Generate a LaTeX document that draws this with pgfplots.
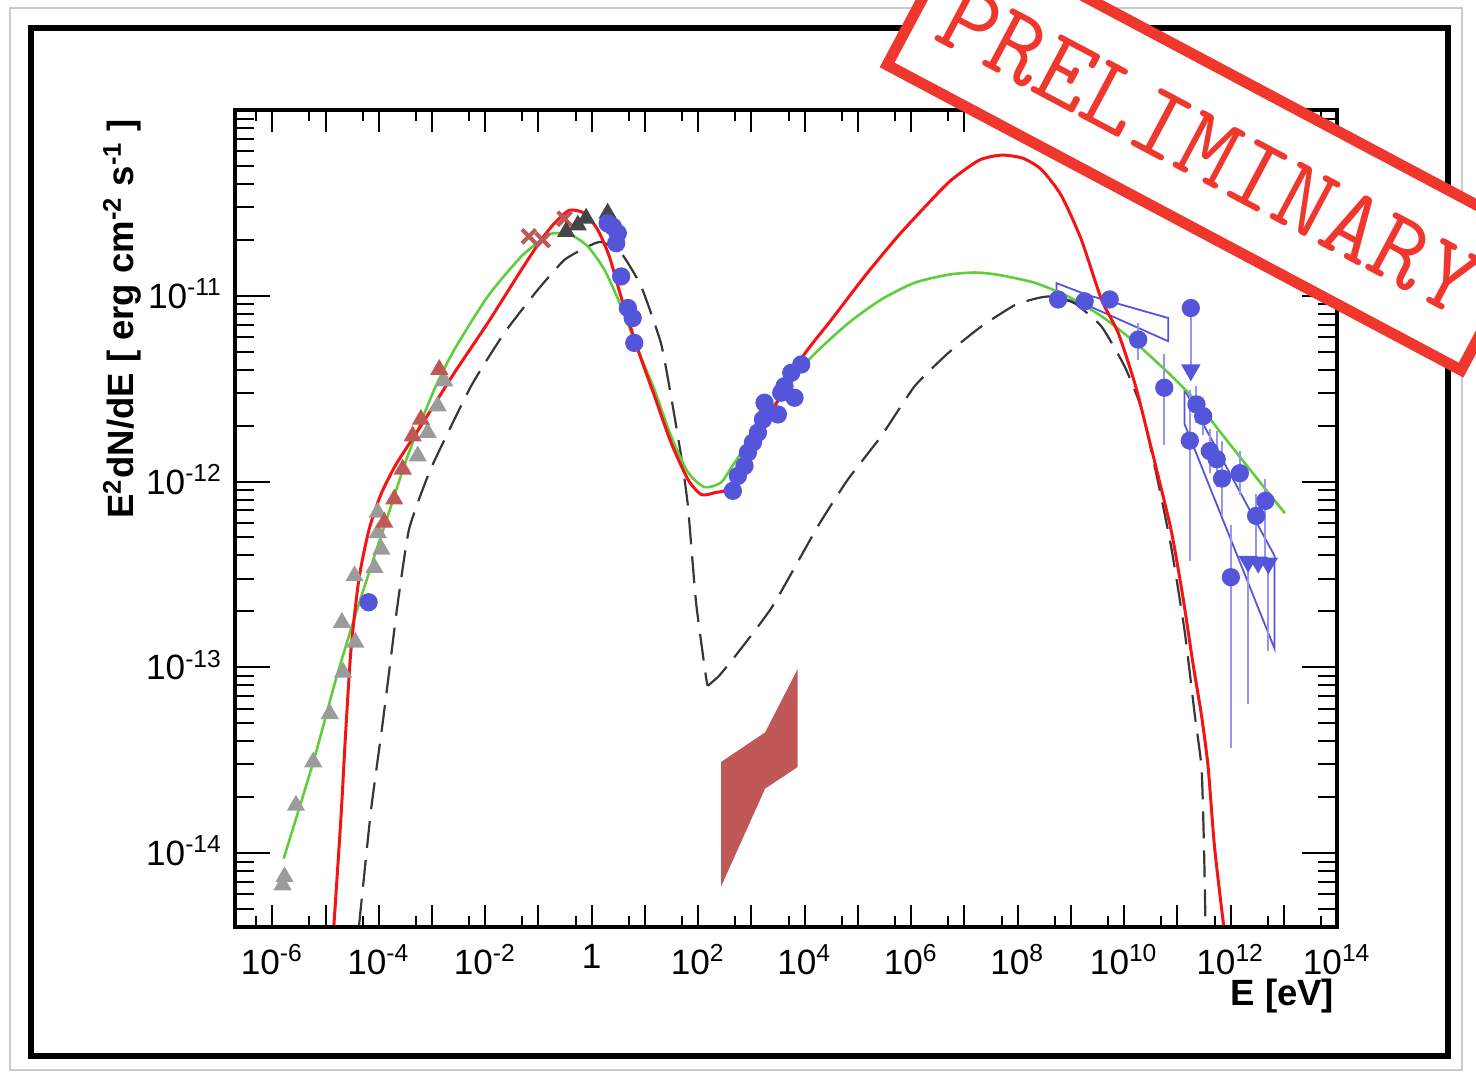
\documentclass[border=0pt]{standalone}
\usepackage{fontspec}
\setmainfont{Liberation Sans}
\usepackage{pgfplots}
\pgfplotsset{compat=1.18}
\definecolor{sedred}{RGB}{245,20,20}
\definecolor{sedgreen}{RGB}{95,205,60}
\definecolor{seddash}{RGB}{55,55,55}
\definecolor{ptblue}{RGB}{85,85,220}
\definecolor{errblue}{RGB}{150,150,240}
\definecolor{ptgray}{RGB}{155,155,155}
\definecolor{ptdark}{RGB}{70,70,70}
\definecolor{ptbrown}{RGB}{192,88,88}
\definecolor{stampred}{RGB}{240,55,45}

\begin{document}
\begin{tikzpicture}
\useasboundingbox (0,0) rectangle (14.76,10.74);
\draw[black!20, line width=0.015cm] (0.10,0.04) rectangle (14.62,10.66);
\draw[black, line width=0.06cm] (0.31,0.18) rectangle (14.48,10.46);
\begin{axis}[
  at={(2.35cm,1.47cm)}, anchor=south west,
  width=11.02cm, height=8.17cm, scale only axis,
  xmin=-6.7, xmax=14, ymin=-14.398, ymax=-10,
  axis line style={line width=0.035cm},
  tick align=inside,
  tick style={black, line width=0.02cm},
  xtick style={/pgfplots/major tick length=0.22cm,/pgfplots/minor tick length=0.11cm},
  ytick style={/pgfplots/major tick length=0.35cm,/pgfplots/minor tick length=0.19cm},
  xtick={-6,...,14},
  xticklabels={10\textsuperscript{-6},{},10\textsuperscript{-4},{},10\textsuperscript{-2},{},1,{},10\textsuperscript{2},{},10\textsuperscript{4},{},10\textsuperscript{6},{},10\textsuperscript{8},{},10\textsuperscript{10},{},10\textsuperscript{12},{},10\textsuperscript{14}},
  minor xtick={-6.301,-5.301,-4.301,-3.301,-2.301,-1.301,-0.301,0.699,1.699,2.699,3.699,4.699,5.699,6.699,7.699,8.699,9.699,10.699,11.699,12.699,13.699},
  ytick={-14,-13,-12,-11,-10},
  yticklabels={10\textsuperscript{-14},10\textsuperscript{-13},10\textsuperscript{-12},10\textsuperscript{-11},{}},
  minor ytick={-14.301,-14.222,-14.155,-14.097,-14.046,
    -13.699,-13.523,-13.398,-13.301,-13.222,-13.155,-13.097,-13.046,
    -12.699,-12.523,-12.398,-12.301,-12.222,-12.155,-12.097,-12.046,
    -11.699,-11.523,-11.398,-11.301,-11.222,-11.155,-11.097,-11.046,
    -10.699,-10.523,-10.398,-10.301,-10.222,-10.155,-10.097,-10.046},
  ticklabel style={font=\fontsize{10}{12}\selectfont},
  xticklabel style={yshift=-0.05cm},
  yticklabel style={anchor=base east, yshift=-3.6pt},
  xlabel={E [eV]},
  ylabel={E\textsuperscript{2}dN/dE [ erg cm\textsuperscript{-2} s\textsuperscript{-1} ]},
  label style={font=\bfseries\fontsize{10.4}{12}\selectfont, inner sep=0pt},
  xlabel style={at={(axis description cs:0.998,-0.0624)}, anchor=north east},
  ylabel style={at={(axis description cs:-0.0844,0.990)}, anchor=south east},
  error bars/error bar style={errblue, line width=0.02cm},
  error bars/error mark=none,
]
% shaded band (X-ray)
\addplot[fill=ptbrown, draw=none] coordinates {
  (2.43,-13.51) (3.258,-13.35) (3.868,-13.01) (3.868,-13.537) (3.258,-13.653) (2.43,-14.18)} -- cycle;
% butterflies
\addplot[ptblue, line width=0.018cm] coordinates {
  (8.73,-10.932) (9.3,-10.995) (10.83,-11.12) (10.83,-11.245) (9.3,-11.05) (8.73,-11.004)} -- cycle;
\addplot[ptblue, line width=0.018cm] coordinates {
  (11.135,-11.505) (12.827,-12.40) (12.827,-12.90) (11.135,-11.69)} -- cycle;
% dashed model
\addplot[seddash, line width=0.022cm, dash pattern=on 0.27cm off 0.12cm, smooth, tension=0.3] table {
x y
-4.37 -14.39
-4.15 -13.78
-3.94 -13.33
-3.79 -12.99
-3.65 -12.67
-3.43 -12.256
-3.02 -11.93
-2.267 -11.487
-1.64 -11.20
-1.013 -10.968
-0.513 -10.807
-0.073 -10.735
0.177 -10.71
0.553 -10.77
0.93 -10.95
1.30 -11.254
1.49 -11.54
1.68 -11.863
1.807 -12.13
1.96 -12.65
2.143 -13.045
2.179 -13.10
};
\addplot[seddash, line width=0.022cm, dash pattern=on 0.27cm off 0.12cm, smooth, tension=0.3] table {
x y
2.179 -13.10
2.395 -13.045
2.75 -12.92
3.40 -12.67
4.25 -12.24
4.81 -11.99
5.44 -11.755
6.066 -11.487
6.69 -11.31
7.32 -11.165
7.95 -11.05
8.385 -11.012
8.635 -11.004
9.07 -11.04
9.575 -11.165
10.01 -11.38
10.33 -11.61
10.64 -12.005
10.89 -12.36
11.14 -12.81
11.33 -13.26
11.455 -13.54
11.50 -13.95
11.53 -14.39
};
% green model
\addplot[sedgreen, line width=0.026cm, smooth, tension=0.4] table {
x y
-5.786 -14.03
-5.23 -13.51
-4.80 -13.06
-4.44 -12.72
-4.08 -12.40
-3.79 -12.15
-3.457 -11.863
-2.957 -11.505
-2.58 -11.29
-1.953 -11.004
-1.327 -10.79
-0.857 -10.68
-0.70 -10.663
-0.387 -10.673
-0.073 -10.735
0.239 -10.86
0.553 -11.057
0.867 -11.29
1.178 -11.505
1.49 -11.755
1.807 -11.95
2.118 -12.03
2.43 -12.005
2.68 -11.90
3.40 -11.60
4.06 -11.35
4.81 -11.15
5.44 -11.02
6.066 -10.93
6.69 -10.887
7.19 -10.875
7.63 -10.887
8.32 -10.93
8.95 -11.004
9.575 -11.11
10.20 -11.25
10.83 -11.415
11.33 -11.56
11.77 -11.72
12.21 -11.88
12.71 -12.06
13.02 -12.17
};
% red model
\addplot[sedred, line width=0.03cm, smooth, tension=0.4] table {
x y
-4.842 -14.387
-4.71 -13.81
-4.617 -13.33
-4.52 -12.90
-4.37 -12.52
-4.18 -12.256
-3.96 -12.07
-3.68 -11.91
-3.207 -11.70
-2.58 -11.415
-1.953 -11.147
-1.32 -10.86
-0.951 -10.70
-0.70 -10.61
-0.419 -10.54
-0.137 -10.556
0.115 -10.646
0.333 -10.79
0.55 -11.004
0.867 -11.29
1.18 -11.54
1.49 -11.79
1.81 -11.99
2.06 -12.07
2.31 -12.06
2.62 -12.02
3.28 -11.68
3.935 -11.34
4.50 -11.13
5.126 -10.896
5.75 -10.68
6.38 -10.485
6.755 -10.377
7.28 -10.27
7.70 -10.243
8.10 -10.26
8.445 -10.32
8.82 -10.46
9.20 -10.70
9.575 -11.02
9.89 -11.20
10.20 -11.47
10.39 -11.68
10.64 -11.97
10.89 -12.27
11.11 -12.63
11.30 -12.99
11.455 -13.26
11.58 -13.54
11.70 -13.97
11.87 -14.39
};
% grey triangles (radio)
\addplot[only marks, mark=triangle*, mark size=2.6pt, color=ptgray] table {
x y
-5.806 -14.172
-5.77 -14.128
-5.555 -13.743
-5.231 -13.51
-4.921 -13.25
-4.669 -13.027
-4.692 -12.759
-4.44 -12.866
-4.455 -12.508
-4.081 -12.464
-3.951 -12.365
-4.017 -12.276
-4.02 -12.166
-3.269 -11.863
-3.081 -11.737
-2.893 -11.594
-2.769 -11.46
};
% red-brown triangles
\addplot[only marks, mark=triangle*, mark size=2.6pt, color=ptbrown] table {
x y
-3.896 -12.22
-3.709 -12.095
-3.55 -11.934
-3.363 -11.755
-3.207 -11.666
-2.863 -11.397
};
% red-brown crosses
\addplot[only marks, mark=x, mark size=2.8pt, line width=0.04cm, color=ptbrown] table {
x y
-1.18 -10.68
-0.92 -10.70
-0.51 -10.585
};
% dark triangles
\addplot[only marks, mark=triangle*, mark size=2.6pt, color=ptdark] table {
x y
-0.481 -10.655
-0.261 -10.62
-0.105 -10.583
0.30 -10.556
};
% blue points (optical, X-ray)
\addplot[only marks, mark=*, mark size=2.4pt, color=ptblue] table {
x y
-4.19 -12.65
0.30 -10.61
0.397 -10.628
0.49 -10.663
0.46 -10.717
0.553 -10.896
0.68 -11.066
0.77 -11.12
0.80 -11.254
2.652 -12.05
2.746 -11.97
2.87 -11.916
2.934 -11.844
3.028 -11.79
3.122 -11.737
3.216 -11.666
3.31 -11.63
3.246 -11.576
3.498 -11.639
3.56 -11.522
3.622 -11.487
3.81 -11.549
3.748 -11.415
3.936 -11.37
};
% blue points (gamma rays) with error bars
\addplot[only marks, mark=*, mark size=2.4pt, color=ptblue,
  error bars/.cd, y dir=both, y explicit] coordinates {
  (8.76,-11.02) +- (0,0)
  (9.26,-11.03) +- (0,0)
  (9.73,-11.02) +- (0,0)
  (10.265,-11.236) += (0,0.09) -= (0,0.11)
  (10.755,-11.495) += (0,0.18) -= (0,0.31)
  (11.254,-11.066) += (0,0) -= (0,0.33)
  (11.235,-11.78) += (0,0.275) -= (0,0.65)
  (11.36,-11.585) +- (0,0.1)
  (11.486,-11.648) +- (0,0.1)
  (11.61,-11.836) +- (0,0.12)
  (11.74,-11.88) +- (0,0.15)
  (11.84,-11.984) +- (0,0.2)
  (12.175,-11.955) +- (0,0.12)
  (12.006,-12.515) += (0,0.28) -= (0,0.92)
  (12.48,-12.185) += (0,0.12) -= (0,0.25)
  (12.655,-12.104) += (0,0.12) -= (0,0.35)
};
% upper limits
\addplot[only marks, mark=triangle*, mark size=2.8pt, mark options={rotate=180}, color=ptblue,
  error bars/.cd, y dir=both, y explicit] coordinates {
  (11.254,-11.40) +- (0,0)
  (12.33,-12.43) += (0,0) -= (0,0.77)
  (12.52,-12.435) +- (0,0)
  (12.71,-12.44) += (0,0) -= (0,0.47)
};
\end{axis}
\node[rotate=-28, draw=stampred, fill=white, line width=0.11cm,
  minimum width=6.5cm, minimum height=1.53cm, inner sep=0pt,
  text=stampred, font=\ttfamily\fontsize{30}{30}\selectfont] at (12.10,9.24) {PRELIMINARY};
\end{tikzpicture}
\end{document}
